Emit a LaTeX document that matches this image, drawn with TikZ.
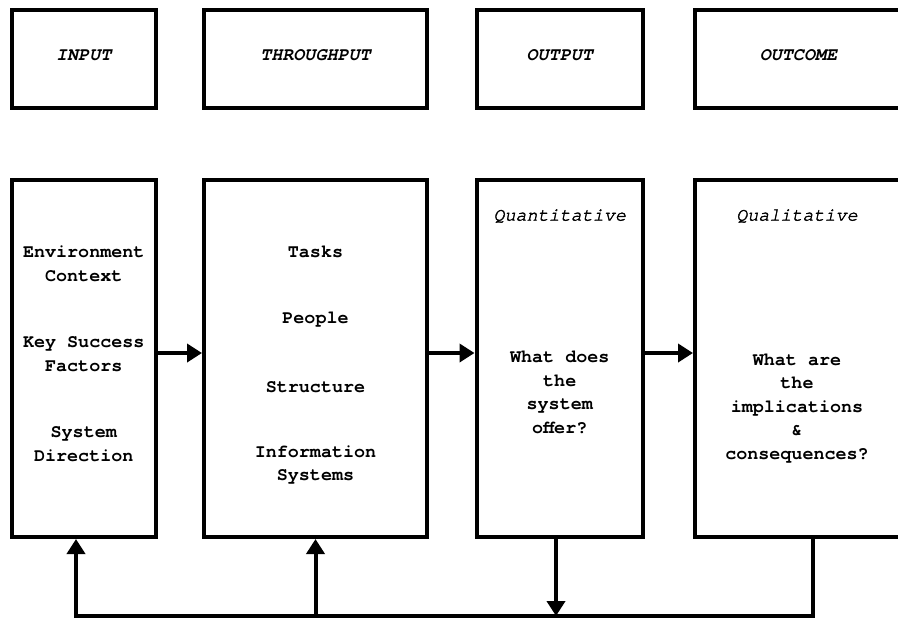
\documentclass[tikz,border=0pt]{standalone}
\usepackage{fontspec}
\setmonofont{texgyrecursor}[Extension=.otf,UprightFont=*-regular,BoldFont=*-bold,ItalicFont=*-italic,BoldItalicFont=*-bolditalic]
\newfontfamily\slantmed{texgyrecursor}[Extension=.otf,UprightFont=*-italic,FakeBold=2]
\usetikzlibrary{arrows.meta}

\begin{document}
\begin{tikzpicture}
[-,line width=2pt,x=0.5pt,y=-0.5pt,%
  every node/.style={font=\ttfamily\bfseries\fontsize{9.2}{11.8}\selectfont},%
  box/.style={draw,rectangle,inner sep=0pt},%
  head/.style={box,minimum height=48.75pt,text depth=4pt},%
  body/.style={box,minimum height=178.5pt},%
  txt/.style={align=center,inner sep=0pt},%
  arr/.style={-{Triangle[length=7.5pt,width=9pt]}}]
\useasboundingbox (0,0) rectangle (898,618);
% top row
\node[head,minimum width=71.75pt] (in) at (83.75,58.75) {\itshape INPUT};
\node[head,minimum width=111.5pt] (th) at (315.5,58.75) {\itshape THROUGHPUT};
\node[head,minimum width=83.25pt] (out) at (559.75,58.75) {\itshape OUTPUT};
\node[head,minimum width=103.5pt] (oc) at (798.5,58.75) {\itshape OUTCOME};
% bottom row
\node[body,minimum width=71.75pt] (inb) at (83.75,358.5) {};
\node[body,minimum width=111.5pt] (thb) at (315.5,358.5) {};
\node[body,minimum width=83.25pt] (outb) at (559.75,358.5) {};
\node[body,minimum width=103.5pt] (ocb) at (798.5,358.5) {};
% texts
\node[txt] (env) at (83.75,263.5) {Environment\\Context};
\node[txt] (ksf) at (83.75,354) {Key Success\\Factors};
\node[txt] (dir) at (83.75,444) {System\\Direction};
\node[txt] (task) at (315.5,252) {Tasks};
\node[txt] (ppl) at (315.5,320) {People};
\node[txt] (str) at (315.5,387) {Structure};
\node[txt] (info) at (315.5,465) {Information\\Systems};
\node[txt] (qnt) at (559.75,216) {\slantmed Quantitative};
\node[txt] (offer) at (559.75,392.5) {What does\\the\\system\\offer?};
\node[txt] (qlt) at (797,216) {\slantmed Qualitative};
\node[txt] (impl) at (797,408.5) {What are\\the\\implications\\\&\\consequences?};
% flow
\draw[arr] ([yshift=2.75pt]inb.east) -- ([yshift=2.75pt]thb.west);
\draw[arr] ([yshift=2.75pt]thb.east) -- ([yshift=2.75pt]outb.west);
\draw[arr] ([yshift=2.75pt]outb.east) -- ([yshift=2.75pt]ocb.west);
% feedback
\coordinate (fb) at (76,616);
\draw[arr] ([xshift=7pt]ocb.south) |- (fb) -- (fb |- inb.south);
\draw[arr] (thb.south |- fb) -- (thb.south);
\draw[arr] ([xshift=-1.875pt]outb.south) -- ([xshift=-1.875pt]outb.south |- fb);
\end{tikzpicture}
\end{document}
